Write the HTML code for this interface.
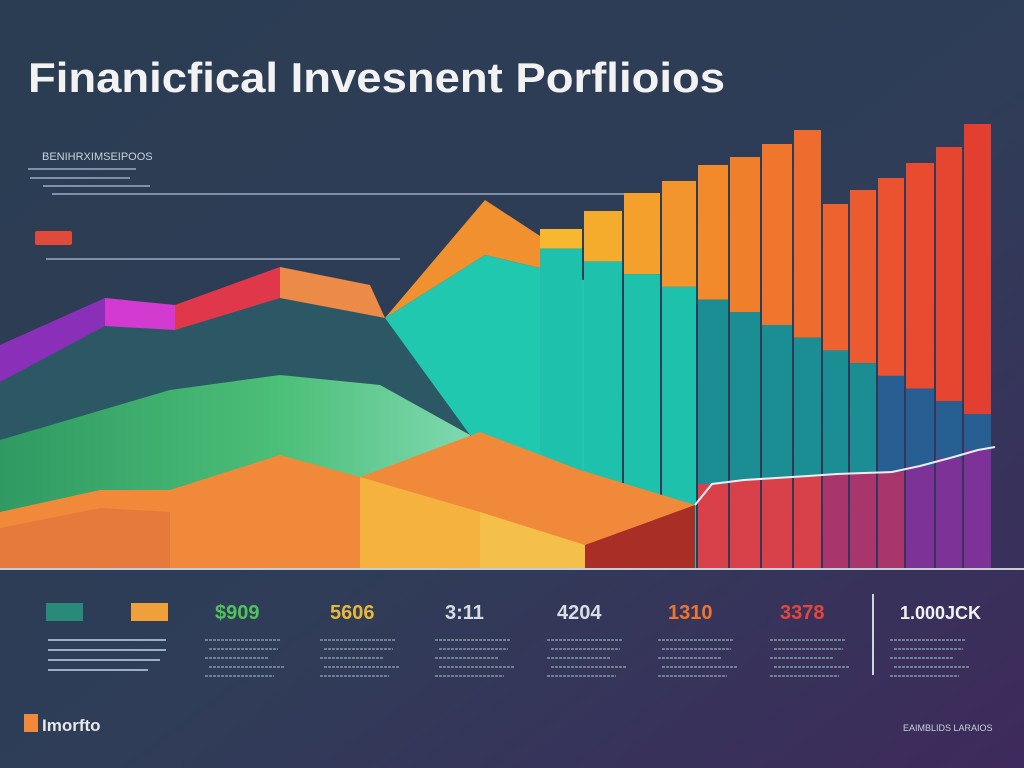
<!DOCTYPE html>
<html><head><meta charset="utf-8"><style>
html,body{margin:0;padding:0;width:1024px;height:768px;overflow:hidden;background:#2d3c52}
svg{display:block}
text{font-family:"Liberation Sans",sans-serif}
</style></head><body>
<svg id="c" width="1024" height="768" viewBox="0 0 1024 768">
<defs>
<linearGradient id="bg" x1="0" y1="0" x2="1" y2="1">
<stop offset="0" stop-color="#2a3d52"/><stop offset="0.55" stop-color="#2f3d58"/><stop offset="1" stop-color="#3e2a5c"/>
</linearGradient>
<linearGradient id="green" x1="0" y1="0" x2="1" y2="0">
<stop offset="0" stop-color="#2f9a62"/><stop offset="0.6" stop-color="#4cbf78"/><stop offset="1" stop-color="#7fd8b0"/>
</linearGradient>
</defs>
<rect width="1024" height="768" fill="url(#bg)"/>
<text x="28" y="92" font-size="42" font-weight="bold" fill="#f2f2f2" textLength="697" lengthAdjust="spacingAndGlyphs">Finanicfical Invesnent Porflioios</text>
<text x="42" y="160" font-size="11" fill="#c9d2dc">BENIHRXIMSEIPOOS</text>
<g stroke="#7f90a8" stroke-width="2">
<line x1="28" y1="169" x2="136" y2="169"/><line x1="30" y1="178" x2="130" y2="178"/><line x1="43" y1="186" x2="150" y2="186"/>
<line x1="52" y1="194" x2="625" y2="194"/><line x1="46" y1="259" x2="400" y2="259"/>
</g>
<rect x="35" y="231" width="37" height="14" rx="2" fill="#e04a3a"/>
<g id="marks"></g>
<line x1="0" y1="569" x2="1024" y2="569" stroke="#c8cdd8" stroke-width="2"/>
<g id="stats"></g>
<rect x="24" y="714" width="14" height="18" fill="#f08a3a"/>
<text x="42" y="731" font-size="17" font-weight="bold" fill="#e8e8e8">Imorfto</text>
<text x="903" y="731" font-size="9" fill="#c9d2dc">EAIMBLIDS LARAIOS</text>
<line x1="873" y1="594" x2="873" y2="675" stroke="#d0d4dc" stroke-width="2"/>
</svg>
<script>
// right-side bar chart data
const barLeft = [540,584,624,662,698,730,762,794,823,850,878,906,936,964];
const barTop = [229,211,193,181,165,157,144,130,204,190,178,163,147,124];
const barColors = ["#f5b82e","#f5ac2c","#f4a02c","#f2952c","#f28a2c","#f07f2c","#ef762c","#ee6c2e","#ed622e","#ec5a30","#ea5230","#e84b30","#e64530","#e33f30"];
const bottomLine = [505,498,492,488,484,480,478,476,474,473,472,466,458,450];
const statValues = ["$909","5606","3:11","4204","1310","3378","1.000ЈCK"];
const statColors = ["#4fc45a","#e8b83a","#d8dde6","#d8dde6","#f0742e","#e8443a","#f2f2f2"];
const statX = [215,330,445,557,668,780,900];

const NS="http://www.w3.org/2000/svg";
const g=document.getElementById('marks');
function poly(pts,fill,name){
 const p=document.createElementNS(NS,'polygon');
 p.setAttribute('points',pts.map(a=>a.join(',')).join(' '));
 p.setAttribute('fill',fill);
 
 
 g.appendChild(p);return p;
}
// left layered areas
poly([[0,345],[105,298],[175,305],[280,267],[370,285],[385,318],[485,200],[540,236],[540,568],[0,568]],"#2c5866",'area-back');
poly([[0,345],[105,298],[105,326],[0,382]],"#8a2fb8",'band-purple');
poly([[105,298],[175,305],[175,330],[105,326]],"#d23ad0",'band-magenta');
poly([[175,305],[280,267],[280,298],[175,330]],"#e0384a",'band-red');
poly([[280,267],[370,285],[385,318],[280,298]],"#ec8a48",'band-orange');
poly([[385,318],[485,200],[540,236],[540,268],[485,255]],"#f0902e",'peak-orange');
poly([[385,318],[485,255],[540,268],[620,290],[620,490],[470,435]],"#1fc8ae",'area-teal-mid');
poly([[0,440],[170,390],[280,375],[380,385],[470,435],[470,568],[0,568]],"url(#green)",'area-green');
// right bars
for(let i=0;i<barLeft.length;i++){
 const x=barLeft[i], w=(i<barLeft.length-1?barLeft[i+1]:993)-x-2;
 const midY=236+(i+1)/barLeft.length*178;
 const r1=document.createElementNS(NS,'rect');
 r1.setAttribute('x',x);r1.setAttribute('y',barTop[i]);r1.setAttribute('width',w);r1.setAttribute('height',midY-barTop[i]);
 r1.setAttribute('fill',barColors[i]);
 
 
 g.appendChild(r1);
 const yb=x>=695?bottomLine[i]:568;
 const r2=document.createElementNS(NS,'rect');
 r2.setAttribute('x',x);r2.setAttribute('y',midY);r2.setAttribute('width',w);r2.setAttribute('height',Math.max(0,yb-midY));
 r2.setAttribute('fill',i<4?"#1ec2ac":(i<10?"#1b8e94":"#275f92"));
 
 
 g.appendChild(r2);
 if(x>=695){
  const r3=document.createElementNS(NS,'rect');
  r3.setAttribute('x',x);r3.setAttribute('y',yb);r3.setAttribute('width',w);r3.setAttribute('height',568-yb);
  r3.setAttribute('fill',i<8?"#d8404a":(i<11?"#a8366c":"#7c3296"));
  
  
  g.appendChild(r3);
 }
}
// lower foreground areas
poly([[0,512],[100,490],[170,490],[280,455],[360,477],[480,432],[580,470],[695,505],[695,568],[0,568]],"#f08a3a",'area-orange');
poly([[0,528],[100,508],[170,512],[170,568],[0,568]],"#e57a3c",'area-orange-low');
poly([[360,477],[480,512],[480,568],[360,568]],"#f6b23e",'area-yellow');
poly([[480,512],[585,545],[585,568],[480,568]],"#f5c04a",'area-yellow-light');
poly([[585,545],[695,505],[695,568],[585,568]],"#a82e26",'area-darkred');
// white trend line
const pl=document.createElementNS(NS,'polyline');
const pts=[[695,505]];for(let i=0;i<barLeft.length;i++){if(barLeft[i]>=695)pts.push([barLeft[i]+14,bottomLine[i]]);}
pts.push([995,447]);
pl.setAttribute('points',pts.map(a=>a.join(',')).join(' '));
pl.setAttribute('fill','none');pl.setAttribute('stroke','#e8eef4');pl.setAttribute('stroke-width','2');


g.appendChild(pl);
// stats row
const s=document.getElementById('stats');
const b1=document.createElementNS(NS,'rect');b1.setAttribute('x',46);b1.setAttribute('y',603);b1.setAttribute('width',37);b1.setAttribute('height',18);b1.setAttribute('fill','#2a8a7a');


s.appendChild(b1);
const b2=document.createElementNS(NS,'rect');b2.setAttribute('x',131);b2.setAttribute('y',603);b2.setAttribute('width',37);b2.setAttribute('height',18);b2.setAttribute('fill','#f0a03a');


s.appendChild(b2);
[[48,640,166],[48,650,166],[48,660,160],[48,670,148]].forEach(l=>{
 const ln=document.createElementNS(NS,'line');ln.setAttribute('x1',l[0]);ln.setAttribute('y1',l[1]);ln.setAttribute('x2',l[2]);ln.setAttribute('y2',l[1]);
 ln.setAttribute('stroke','#9ab0c0');ln.setAttribute('stroke-width','2');
 
 
 s.appendChild(ln);
});
for(let i=0;i<statValues.length;i++){
 const t=document.createElementNS(NS,'text');
 t.setAttribute('x',statX[i]);t.setAttribute('y',619);t.setAttribute('font-size',i==6?18:20);t.setAttribute('font-weight','bold');
 t.setAttribute('fill',statColors[i]);t.textContent=statValues[i];
 
 
 s.appendChild(t);
 for(let k=0;k<5;k++){
  const ln=document.createElementNS(NS,'line');
  const x0=statX[i]-10+(k%2)*4;
  ln.setAttribute('x1',x0);ln.setAttribute('x2',x0+75-(k%3)*6);ln.setAttribute('y1',640+k*9);ln.setAttribute('y2',640+k*9);
  ln.setAttribute('stroke','#6f8092');ln.setAttribute('stroke-width','2');ln.setAttribute('stroke-dasharray','3 1');
  
  
  s.appendChild(ln);
 }
}
</script>
</body></html>
